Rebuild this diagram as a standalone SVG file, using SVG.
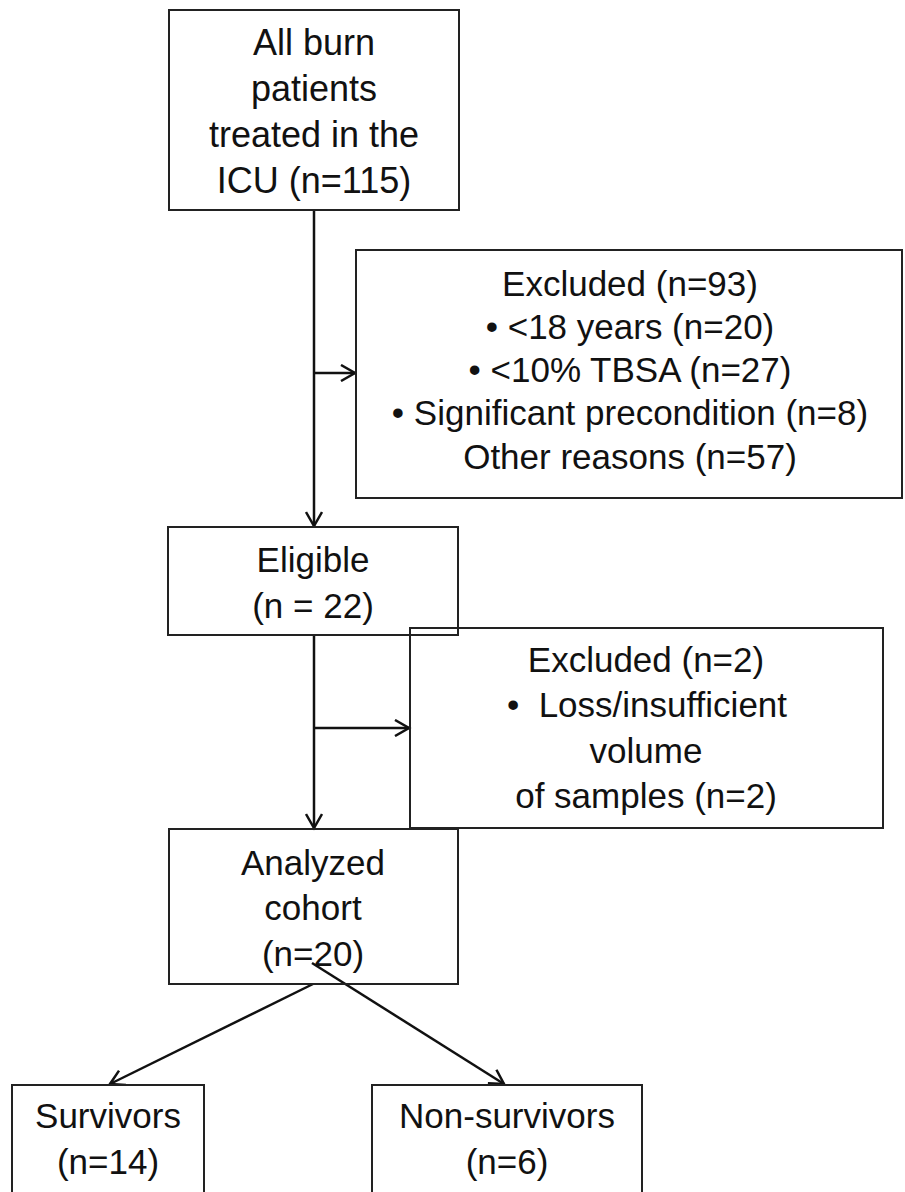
<svg xmlns="http://www.w3.org/2000/svg" width="905" height="1192" viewBox="0 0 905 1192">
<style>
  .box { fill: #ffffff; stroke: #222222; stroke-width: 2; }
  .open { fill: none; }
  .lbl { font-family: "Liberation Sans", Arial, sans-serif; font-size: 35px; fill: #111111; text-anchor: middle; }
  .big { font-size: 36px; }
  .conn { stroke: #111111; stroke-width: 2.5; fill: none; }
</style>
<defs>
  <marker id="arr" markerUnits="userSpaceOnUse" markerWidth="18" markerHeight="18" refX="15" refY="9" orient="auto">
    <path d="M1,1 L15,9 L1,17" fill="none" stroke="#111111" stroke-width="2.5"/>
  </marker>
</defs>
<rect width="905" height="1192" fill="#ffffff"/>

<g id="connectors">
  <line class="conn" x1="314" y1="210" x2="314" y2="526" marker-end="url(#arr)"/>
  <line class="conn" x1="314" y1="373" x2="355" y2="373" marker-end="url(#arr)"/>
  <line class="conn" x1="314" y1="635" x2="314" y2="828" marker-end="url(#arr)"/>
  <line class="conn" x1="314" y1="728" x2="409" y2="728" marker-end="url(#arr)"/>
  <line class="conn" x1="313" y1="984" x2="110" y2="1084" marker-end="url(#arr)"/>
  <line class="conn" x1="312" y1="963" x2="504" y2="1084" marker-end="url(#arr)"/>
</g>

<g id="all-patients">
  <rect class="box" x="169" y="10" width="290" height="200"/>
  <text class="lbl big" x="314" y="55">All burn</text>
  <text class="lbl big" x="314" y="101">patients</text>
  <text class="lbl big" x="314" y="147">treated in the</text>
  <text class="lbl big" x="314" y="193">ICU (n=115)</text>
</g>

<g id="excluded-93">
  <rect class="box" x="356" y="250" width="546" height="248"/>
  <text class="lbl" x="630" y="296">Excluded (n=93)</text>
  <text class="lbl" x="630" y="339">• &lt;18 years (n=20)</text>
  <text class="lbl" x="630" y="382">• &lt;10% TBSA (n=27)</text>
  <text class="lbl" x="630" y="425">• Significant precondition (n=8)</text>
  <text class="lbl" x="630" y="469">Other reasons (n=57)</text>
</g>

<g id="eligible">
  <rect class="box" x="168" y="527" width="290" height="108"/>
  <text class="lbl" x="313" y="572">Eligible</text>
  <text class="lbl" x="313" y="618">(n = 22)</text>
</g>

<g id="excluded-2">
  <rect class="box open" x="410" y="628" width="473" height="200"/>
  <text class="lbl" x="646" y="672">Excluded (n=2)</text>
  <text class="lbl" x="647" y="717">•&#160;&#160;Loss/insufficient</text>
  <text class="lbl" x="646" y="763">volume</text>
  <text class="lbl" x="646" y="808">of samples (n=2)</text>
</g>

<g id="analyzed">
  <rect class="box open" x="169" y="829" width="289" height="155"/>
  <text class="lbl" x="313" y="875">Analyzed</text>
  <text class="lbl" x="313" y="920">cohort</text>
  <text class="lbl" x="313" y="966">(n=20)</text>
</g>

<g id="survivors">
  <rect class="box" x="12" y="1085" width="192" height="120"/>
  <text class="lbl" x="108" y="1128">Survivors</text>
  <text class="lbl" x="108" y="1174">(n=14)</text>
</g>

<g id="non-survivors">
  <rect class="box" x="372" y="1085" width="270" height="120"/>
  <text class="lbl" x="507" y="1128">Non-survivors</text>
  <text class="lbl" x="507" y="1174">(n=6)</text>
</g>
</svg>
